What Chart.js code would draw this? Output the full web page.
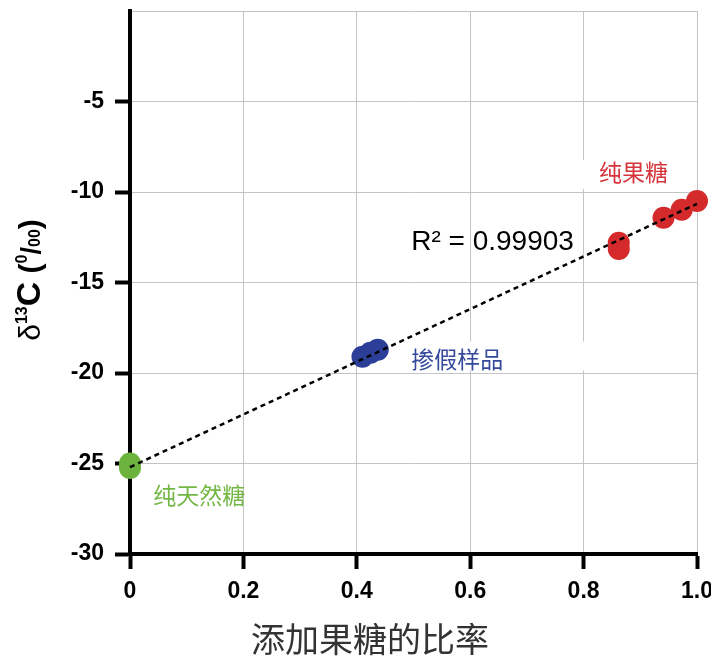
<!DOCTYPE html>
<html>
<head>
<meta charset="utf-8">
<script src="https://cdn.jsdelivr.net/npm/chart.js@4.4.1/dist/chart.umd.min.js"></script>
<style>
html,body{margin:0;padding:0;background:#fff;}
canvas{display:block;}
</style>
</head>
<body>
<canvas id="c" width="711" height="659"></canvas>
<script>
// ---- data ----
const naturalX = [0, 0];
const naturalY = [-25.0, -25.25];
const adulteratedX = [0.410, 0.424, 0.437];
const adulteratedY = [-19.1, -18.88, -18.72];
const fructoseX = [0.862, 0.862, 0.941, 0.973, 1.0];
const fructoseY = [-12.8, -13.15, -11.42, -10.98, -10.5];
const trendX = [0, 1.0];
const trendY = [-25.2, -10.65];
const xTicks = [0, 0.2, 0.4, 0.6, 0.8, 1.0];
const yTicks = [-30, -25, -20, -15, -10, -5];
const rSquaredText = 'R² = 0.99903';
const labelTexts = ['纯果糖', '掺假样品', '纯天然糖'];
const xAxisTitle = '添加果糖的比率';

const zip = (xs, ys) => xs.map((x, i) => ({x: x, y: ys[i]}));

const RED = '#d42a2c', BLUE = '#2b3f98', GREEN = '#6cb33e';

const annotations = {
  id: 'annotations',
  beforeDatasetsDraw(chart) {
    const {ctx, scales: {x, y}} = chart;
    ctx.save();
    ctx.fillStyle = '#ffffff';
    // white label backgrounds
    const boxes = [[0.785, 0.988, -8.23, -9.82], [0.476, 0.802, -18.27, -19.86]];
    boxes.forEach(b => {
      const x0 = x.getPixelForValue(b[0]), x1 = x.getPixelForValue(b[1]);
      const y0 = y.getPixelForValue(b[2]), y1 = y.getPixelForValue(b[3]);
      ctx.fillRect(x0, y0, x1 - x0, y1 - y0);
    });
    ctx.restore();
  },
  afterDatasetsDraw(chart) {
    const {ctx, scales: {x, y}} = chart;
    ctx.save();
    ctx.textBaseline = 'middle';
    ctx.textAlign = 'center';
    ctx.font = '400 23px "Noto Sans CJK SC"';
    const pos = [[0.888, -8.9, '#d6343b'], [0.577, -19.25, '#34499c'], [0.122, -26.75, '#74b746']];
    labelTexts.forEach((t, i) => {
      ctx.fillStyle = pos[i][2];
      ctx.fillText(t, x.getPixelForValue(pos[i][0]), y.getPixelForValue(pos[i][1]));
    });
    ctx.textAlign = 'left';
    ctx.fillStyle = '#000';
    ctx.font = '400 28px "Liberation Sans"';
    ctx.fillText(rSquaredText, x.getPixelForValue(0.496), y.getPixelForValue(-12.8));
    ctx.restore();
  },
  afterDraw(chart) {
    const {ctx} = chart;
    ctx.save();
    // x axis title
    ctx.fillStyle = '#333333';
    ctx.font = '400 34px "Noto Sans CJK SC"';
    ctx.textAlign = 'center';
    ctx.textBaseline = 'middle';
    ctx.fillText(xAxisTitle, 370, 639);
    // y axis title with superscripts
    const segs = [
      ['δ', '400 30px "Liberation Sans"', 0],
      ['13', '700 16px "Liberation Sans"', -13],
      ['C', '700 34px "Liberation Sans"', 0],
      [' (', '700 30px "Liberation Sans"', 0],
      ['0', '700 16px "Liberation Sans"', -13],
      ['/', '700 27px "Liberation Sans"', 0],
      ['00', '700 16px "Liberation Sans"', 0],
      [')', '700 30px "Liberation Sans"', 0]
    ];
    let total = 0;
    segs.forEach(s => { ctx.font = s[1]; total += ctx.measureText(s[0]).width; });
    ctx.translate(28, 280);
    ctx.rotate(-Math.PI / 2);
    ctx.fillStyle = '#000';
    ctx.textAlign = 'left';
    ctx.textBaseline = 'alphabetic';
    let cx = -total / 2;
    segs.forEach(s => {
      ctx.font = s[1];
      ctx.fillText(s[0], cx, 12 + s[2]);
      cx += ctx.measureText(s[0]).width;
    });
    ctx.restore();
  }
};

new Chart(document.getElementById('c'), {
  type: 'scatter',
  data: {
    datasets: [
      {
        type: 'line',
        data: zip(trendX, trendY),
        borderColor: '#000',
        borderWidth: 2.5,
        borderDash: [5, 4],
        pointRadius: 0,
        fill: false,
        clip: false
      },
      { data: zip(naturalX, naturalY), backgroundColor: GREEN, borderColor: GREEN, pointRadius: 11, borderWidth: 0, clip: false },
      { data: zip(adulteratedX, adulteratedY), backgroundColor: BLUE, borderColor: BLUE, pointRadius: 11, borderWidth: 0, clip: false },
      { data: zip(fructoseX, fructoseY), backgroundColor: RED, borderColor: RED, pointRadius: 11, borderWidth: 0, clip: false }
    ]
  },
  options: {
    responsive: false,
    animation: false,
    devicePixelRatio: 1,
    layout: { padding: { left: 0, right: 14, top: 8, bottom: 0 } },
    plugins: { legend: { display: false }, tooltip: { enabled: false } },
    scales: {
      x: {
        type: 'linear',
        min: 0, max: 1,
        afterFit: s => { s.height = 105; s.paddingLeft = 0; s.paddingRight = 0; },
        afterBuildTicks: s => { s.ticks = xTicks.map(v => ({value: v})); },
        ticks: {
          autoSkip: false, maxRotation: 0, padding: 9,
          color: '#000',
          font: { family: 'Liberation Sans', size: 23, weight: 'bold' },
          callback: v => (v === 0 ? '0' : Number(v).toFixed(1))
        },
        grid: { color: '#c4c4c4', lineWidth: 1, tickColor: '#000', tickWidth: 4, tickLength: 15 },
        border: { color: '#000', width: 4 }
      },
      y: {
        type: 'linear',
        min: -30, max: 0,
        afterFit: s => { s.width = 130; s.paddingTop = 0; s.paddingBottom = 0; },
        afterBuildTicks: s => { s.ticks = yTicks.concat([0]).map(v => ({value: v})); },
        ticks: {
          autoSkip: false, padding: 11,
          color: '#000',
          font: { family: 'Liberation Sans', size: 23, weight: 'bold' },
          callback: v => (v === 0 ? '' : String(v))
        },
        grid: {
          color: '#c4c4c4', lineWidth: 1,
          tickColor: c => (c.tick && c.tick.value === 0 ? 'rgba(0,0,0,0)' : '#000'),
          tickWidth: 4, tickLength: 15
        },
        border: { color: '#000', width: 4 }
      }
    }
  },
  plugins: [annotations]
});
</script>
</body>
</html>
